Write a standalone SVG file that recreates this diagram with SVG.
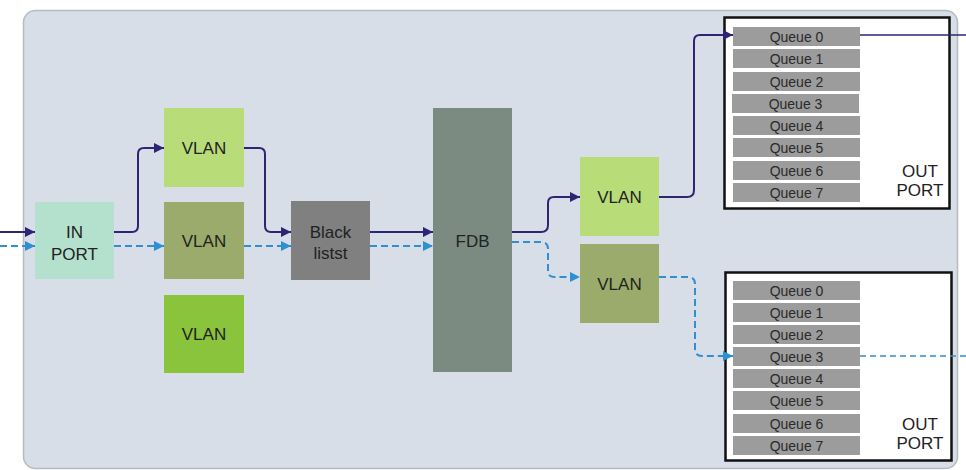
<svg xmlns="http://www.w3.org/2000/svg" width="966" height="470" viewBox="0 0 966 470">
<defs>
<marker id="ah" viewBox="0 0 10 10" refX="10" refY="5" markerWidth="5" markerHeight="5" orient="auto" markerUnits="strokeWidth"><path d="M0,0 L10,5 L0,10 z" fill="#2e2472"/></marker>
<marker id="ab" viewBox="0 0 10 10" refX="10" refY="5" markerWidth="5" markerHeight="5" orient="auto" markerUnits="strokeWidth"><path d="M0,0 L10,5 L0,10 z" fill="#2f8fd0"/></marker>
</defs>
<style>
text{font-family:"Liberation Sans",Arial,sans-serif;fill:#222;text-anchor:middle}
.big{font-size:17px}
.q{font-size:14px;fill:#2a2a2a}
.qr{fill:#9c9c9c}
.solid{fill:none;stroke:#2e2472;stroke-width:2;marker-end:url(#ah)}
.dash{fill:none;stroke:#2f8fd0;stroke-width:2;stroke-dasharray:7,4;marker-end:url(#ab)}
.plain{fill:none;stroke:#2e2472;stroke-width:1.5}
.plaind{fill:none;stroke:#2f8fd0;stroke-width:1.5;stroke-dasharray:6,4}
</style>
<rect width="966" height="470" fill="#ffffff"/>
<rect x="23.5" y="10.5" width="934" height="458" rx="12" fill="#d7dee8" stroke="#b5bcbc" stroke-width="1.5"/>

<g id="inport"><rect x="35" y="202" width="79" height="77" fill="#b4e1cd"/><text class="big" x="74.5" y="238">IN</text><text class="big" x="74.5" y="260">PORT</text></g>
<g id="vlan1"><rect x="164" y="108" width="80" height="79" fill="#b8dc78"/><text class="big" x="204" y="154">VLAN</text></g>
<g id="vlan2"><rect x="164" y="202" width="80" height="77" fill="#9bab6b"/><text class="big" x="204" y="247">VLAN</text></g>
<g id="vlan3"><rect x="164" y="295" width="80" height="78" fill="#8ac33c"/><text class="big" x="204" y="340">VLAN</text></g>
<g id="blacklist"><rect x="291" y="201" width="79" height="79" fill="#808080"/><text class="big" x="330.5" y="238">Black</text><text class="big" x="330.5" y="259">listst</text></g>
<g id="fdb"><rect x="433" y="108" width="79" height="264" fill="#7b8b81"/><text class="big" x="472.5" y="247">FDB</text></g>
<g id="vlan4"><rect x="580" y="157" width="79" height="79" fill="#b8dc78"/><text class="big" x="619.5" y="203">VLAN</text></g>
<g id="vlan5"><rect x="580" y="244" width="79" height="79" fill="#9bab6b"/><text class="big" x="619.5" y="290">VLAN</text></g>

<g id="outport1">
<rect x="724.5" y="17.5" width="225" height="191" fill="#ffffff" stroke="#111" stroke-width="2.5"/>
<rect class="qr" x="733" y="27" width="127" height="19"/><text class="q" x="796.5" y="41.5">Queue 0</text>
<rect class="qr" x="733" y="49" width="127" height="19"/><text class="q" x="796.5" y="63.5">Queue 1</text>
<rect class="qr" x="733" y="72" width="127" height="19"/><text class="q" x="796.5" y="86.5">Queue 2</text>
<rect class="qr" x="732" y="94" width="127" height="19"/><text class="q" x="795.5" y="108.5">Queue 3</text>
<rect class="qr" x="733" y="116" width="127" height="19"/><text class="q" x="796.5" y="130.5">Queue 4</text>
<rect class="qr" x="733" y="138" width="127" height="19"/><text class="q" x="796.5" y="152.5">Queue 5</text>
<rect class="qr" x="733" y="161" width="127" height="19"/><text class="q" x="796.5" y="175.5">Queue 6</text>
<rect class="qr" x="733" y="183" width="127" height="19"/><text class="q" x="796.5" y="197.5">Queue 7</text>
<text class="big" x="920" y="177">OUT</text><text class="big" x="920" y="196">PORT</text>
</g>

<g id="outport2">
<rect x="725.5" y="272.5" width="226" height="188" fill="#ffffff" stroke="#111" stroke-width="2.5"/>
<rect class="qr" x="733" y="281" width="127" height="19"/><text class="q" x="796.5" y="295.5">Queue 0</text>
<rect class="qr" x="733" y="303" width="127" height="19"/><text class="q" x="796.5" y="317.5">Queue 1</text>
<rect class="qr" x="733" y="325" width="127" height="19"/><text class="q" x="796.5" y="339.5">Queue 2</text>
<rect class="qr" x="733" y="347" width="127" height="19"/><text class="q" x="796.5" y="361.5">Queue 3</text>
<rect class="qr" x="733" y="369" width="127" height="19"/><text class="q" x="796.5" y="383.5">Queue 4</text>
<rect class="qr" x="733" y="391" width="127" height="19"/><text class="q" x="796.5" y="405.5">Queue 5</text>
<rect class="qr" x="733" y="414" width="127" height="19"/><text class="q" x="796.5" y="428.5">Queue 6</text>
<rect class="qr" x="733" y="436" width="127" height="19"/><text class="q" x="796.5" y="450.5">Queue 7</text>
<text class="big" x="920" y="430">OUT</text><text class="big" x="920" y="449">PORT</text>
</g>

<g id="connectors">
<path class="solid" d="M0,232 H35"/>
<path class="solid" d="M114,232 H132 Q138,232 138,226 V154 Q138,148 144,148 H164"/>
<path class="solid" d="M244,148 H259 Q265,148 265,154 V226 Q265,232 271,232 H291"/>
<path class="solid" d="M370,232 H433"/>
<path class="solid" d="M512,232 H541 Q548,232 548,225 V203 Q548,197 554,197 H580"/>
<path class="solid" d="M659,197 H687 Q694,197 694,190 V41 Q694,35 700,35 H733"/>
<path class="plain" d="M860,35 H966"/>
<path class="dash" d="M0,246 H35"/>
<path class="dash" d="M114,246 H164"/>
<path class="dash" d="M244,246 H291"/>
<path class="dash" d="M370,246 H433"/>
<path class="dash" d="M512,242 H541 Q548,242 548,249 V271 Q548,277 554,277 H580"/>
<path class="dash" d="M659,277 H688 Q695,277 695,284 V349 Q695,356 702,356 H733"/>
<path class="plaind" d="M860,356 H966"/>
</g>
</svg>
